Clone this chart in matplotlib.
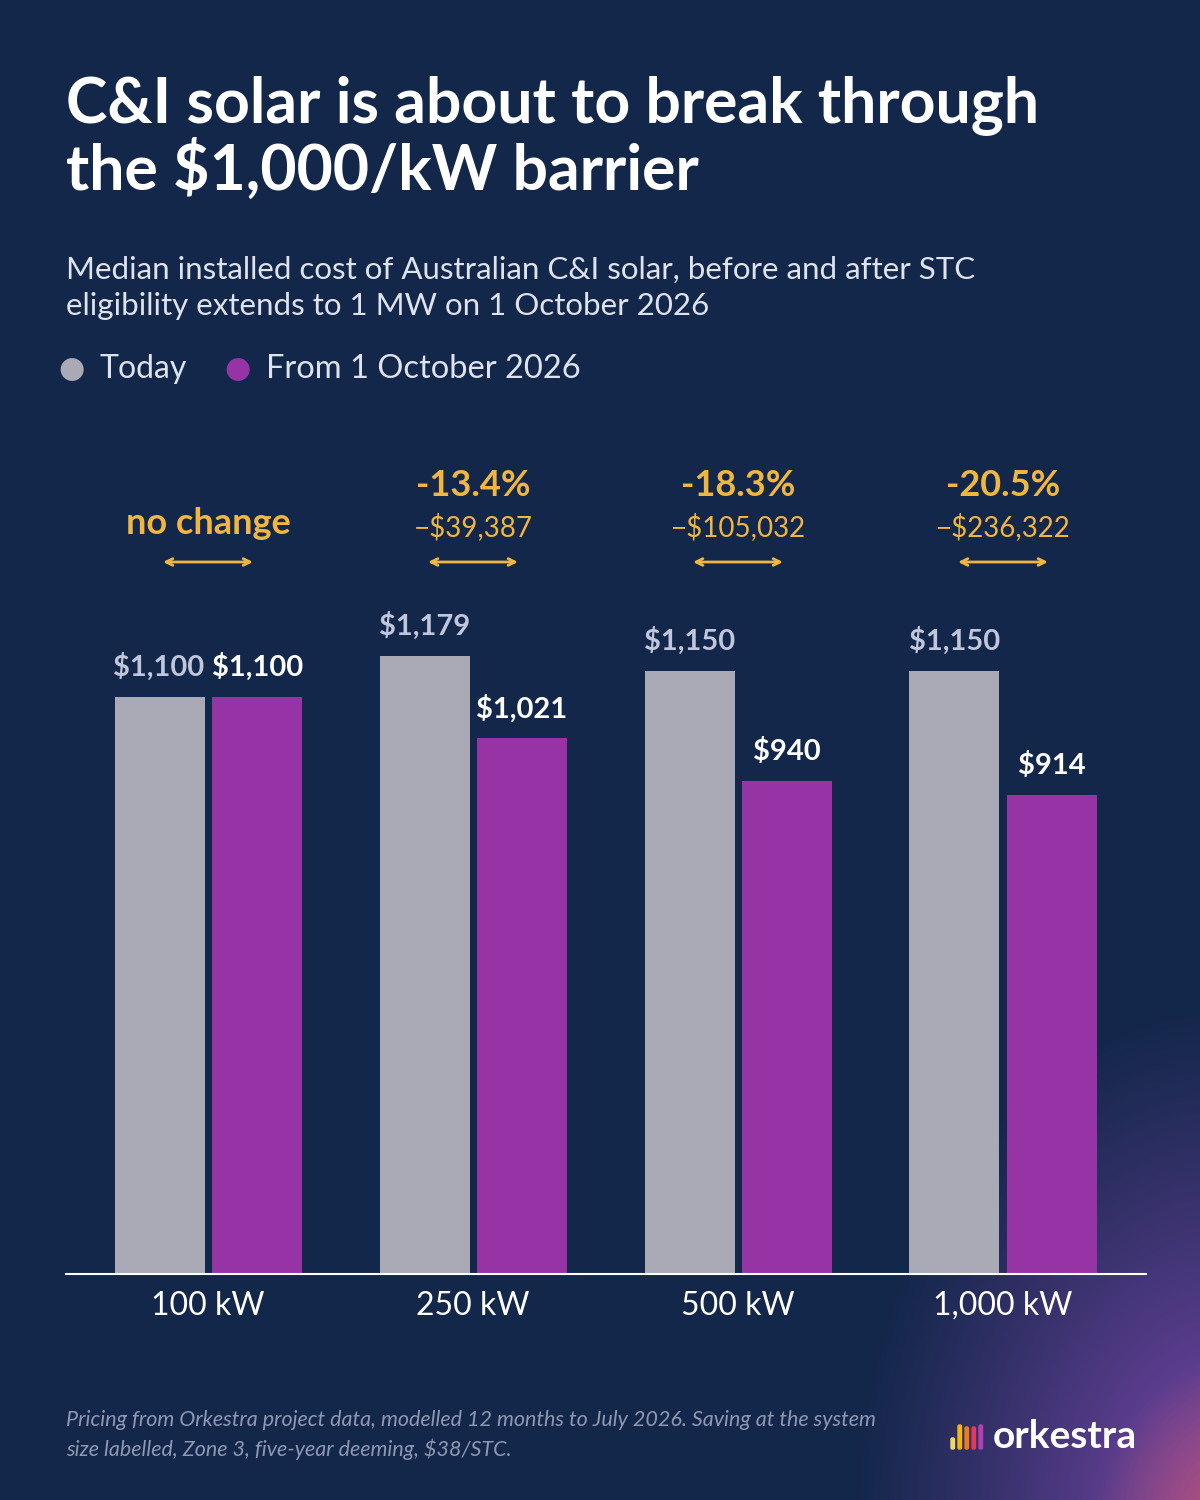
import matplotlib
matplotlib.use("Agg")
import matplotlib.pyplot as plt
import numpy as np

categories = ["100 kW", "250 kW", "500 kW", "1,000 kW"]
today = [1100, 1179, 1150, 1150]
after = [1100, 1021, 940, 914]
pct_labels = ["no change", "-13.4%", "-18.3%", "-20.5%"]
saving_labels = ["", "\u2212$39,387", "\u2212$105,032", "\u2212$236,322"]

BG = "#13274a"
GREY = "#a9aab5"
PURPLE = "#9634a6"
GOLD = "#f0b63f"
FONT = "Lato"
plt.rcParams["font.family"] = [FONT, "DejaVu Sans"]

W, H = 1200, 1500
fig = plt.figure(figsize=(12, 15), dpi=100)
fig.patch.set_facecolor(BG)

# background glow bottom-right
bg = fig.add_axes([0, 0, 1, 1], zorder=-10)
yy, xx = np.mgrid[0:H, 0:W]
d = np.sqrt(((xx - 1230) / 380.0) ** 2 + ((yy - 1520) / 520.0) ** 2)
a = np.clip(1 - d, 0, 1) ** 1.1
base = np.array([0x13, 0x27, 0x4a]) / 255
glow = np.array([0x80, 0x48, 0xb0]) / 255
img = base[None, None, :] * (1 - a[..., None]) + glow[None, None, :] * a[..., None]
d2 = np.sqrt(((xx - 1260) / 170.0) ** 2 + ((yy - 1540) / 190.0) ** 2)
a2 = np.clip(1 - d2, 0, 1) ** 1.0
red = np.array([0xc8, 0x55, 0x6a]) / 255
img = img * (1 - a2[..., None]) + red[None, None, :] * a2[..., None]
bg.imshow(img, aspect="auto", extent=[0, W, H, 0])
bg.set_xlim(0, W); bg.set_ylim(H, 0); bg.axis("off")

# Text header
fig.text(66 / W, 1 - 138 / H, "C&I solar is about to break through\nthe $1,000/kW barrier",
         color="white", fontsize=45, fontweight="bold", va="center", ha="left", linespacing=1.08)
fig.text(66 / W, 1 - 288 / H,
         "Median installed cost of Australian C&I solar, before and after STC\neligibility extends to 1 MW on 1 October 2026",
         color="#dfe3ee", fontsize=22.5, va="center", ha="left", linespacing=1.35)
fig.text(72 / W, 1 - 371 / H, "\u25CF", color=GREY, fontsize=34, va="center", ha="center")
fig.text(100 / W, 1 - 369 / H, "Today", color="#dfe3ee", fontsize=23, va="center")
fig.text(238 / W, 1 - 371 / H, "\u25CF", color=PURPLE, fontsize=34, va="center", ha="center")
fig.text(266 / W, 1 - 369 / H, "From 1 October 2026", color="#dfe3ee", fontsize=23.5, va="center")

# chart axes
top_px, base_px = 400, 1274
ax = fig.add_axes([66 / W, 1 - base_px / H, 1080 / W, (base_px - top_px) / H])
ax.set_facecolor("none")
ymax = (base_px - top_px) / (577 / 1100)
ax.set_ylim(0, ymax)
ax.set_xlim(-142 / 265, 3 + 143 / 265)
x = np.arange(len(categories))
bw, off = 90 / 265, 48.5 / 265
ax.bar(x - off, today, width=bw, color=GREY)
ax.bar(x + off, after, width=bw, color=PURPLE)
for i in range(len(categories)):
    dx = 0.005 if i == 0 else 0
    ax.text(x[i] - off - dx, today[i] + 30, f"${today[i]:,}", color="#c0c6dc", fontsize=21,
            fontweight="bold", ha="center", va="bottom")
    ax.text(x[i] + off + dx, after[i] + 30, f"${after[i]:,}", color="white", fontsize=21,
            fontweight="bold", ha="center", va="bottom")
    if saving_labels[i]:
        ax.annotate(pct_labels[i], xy=(x[i], H - 485), xycoords=("data", "figure pixels"),
                    color=GOLD, fontsize=26, fontweight="bold", ha="center", va="center")
        ax.annotate(saving_labels[i], xy=(x[i], H - 527), xycoords=("data", "figure pixels"),
                    color=GOLD, fontsize=20, ha="center", va="center")
    else:
        ax.annotate(pct_labels[i], xy=(x[i], H - 523), xycoords=("data", "figure pixels"),
                    color=GOLD, fontsize=26, fontweight="bold", ha="center", va="center")
    ax.annotate("", xy=(x[i] - 0.18, H - 562), xytext=(x[i] + 0.18, H - 562),
                xycoords=("data", "figure pixels"), textcoords=("data", "figure pixels"),
                arrowprops=dict(arrowstyle="<->", color=GOLD, lw=2, mutation_scale=12))

ax.set_xticks(x)
ax.set_xticklabels(categories, color="white", fontsize=23)
ax.tick_params(axis="x", length=0, pad=12)
ax.set_yticks([])
for s in ["top", "right", "left"]:
    ax.spines[s].set_visible(False)
ax.spines["bottom"].set_color("white")
ax.spines["bottom"].set_linewidth(1.5)

# footer
fig.text(66 / W, 1 - 1435 / H,
         "Pricing from Orkestra project data, modelled 12 months to July 2026. Saving at the system\nsize labelled, Zone 3, five-year deeming, $38/STC.",
         color="#8f98b3", fontsize=15.5, style="italic", va="center", ha="left", linespacing=1.5)
# logo
bar_cols = ["#f3d66b", "#f2b418", "#ec7a20", "#e03a5e", "#b43fb4"]
bar_h = [11, 24, 22, 22, 24]
for k, (c, h) in enumerate(zip(bar_cols, bar_h)):
    lx = 951 + k * 7
    fig.patches.append(matplotlib.patches.FancyBboxPatch(
        (lx / W, (H - 1449) / H), 3.5 / W, h / H, boxstyle="round,pad=0,rounding_size=0.001",
        transform=fig.transFigure, color=c))
fig.text(993 / W, 1 - 1437 / H, "orkestra", color="white", fontsize=28, fontweight="bold",
         va="center", ha="left")

fig.savefig("out.png", dpi=100, facecolor=BG)
